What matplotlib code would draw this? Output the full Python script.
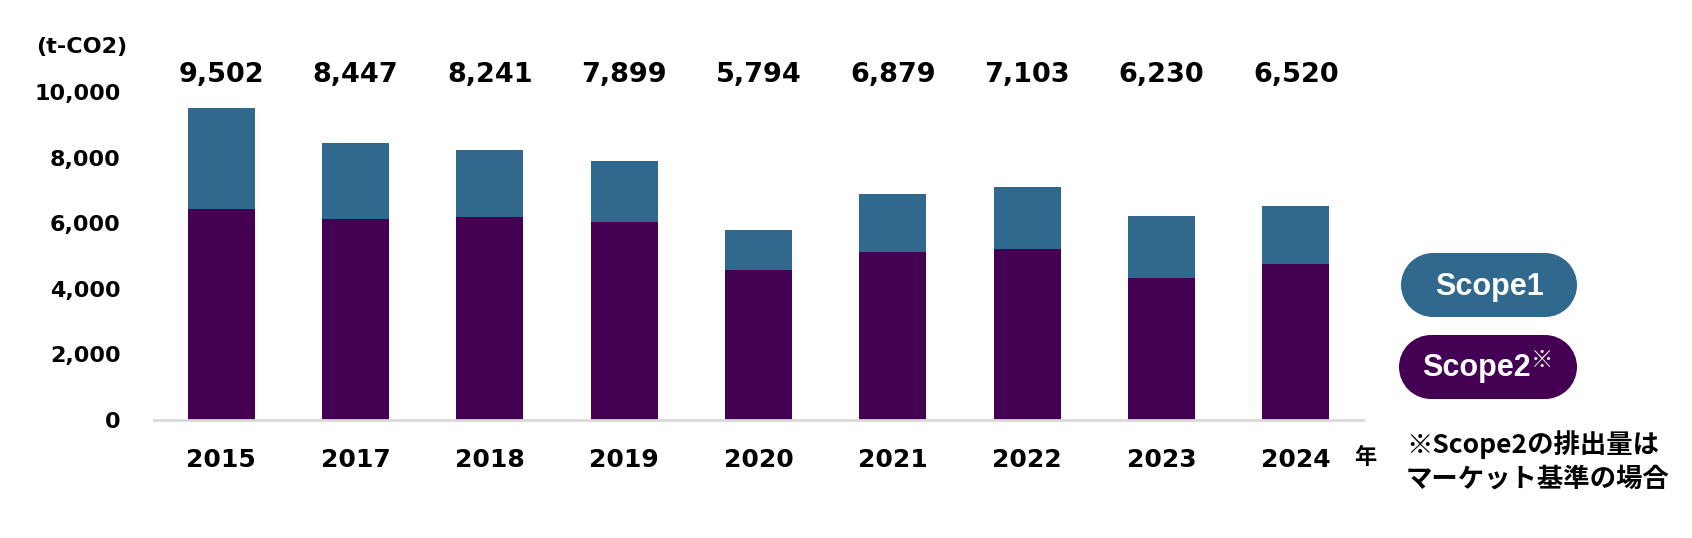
import matplotlib
matplotlib.use("Agg")
import matplotlib.pyplot as plt
from matplotlib.patches import Rectangle, Circle
import numpy as np

plt.rcParams['font.family'] = ['DejaVu Sans', 'Noto Sans CJK JP']

years = ["2015", "2017", "2018", "2019", "2020", "2021", "2022", "2023", "2024"]
totals = [9502, 8447, 8241, 7899, 5794, 6879, 7103, 6230, 6520]
scope2 = [6426, 6121, 6182, 6030, 4568, 5117, 5208, 4325, 4751]
scope1 = [t - s for t, s in zip(totals, scope2)]
yticks = [0, 2000, 4000, 6000, 8000, 10000]

c_scope1 = "#31688e"
c_scope2 = "#440154"
jp = ['Noto Sans CJK JP', 'DejaVu Sans']

W, H = 1692, 538
fig = plt.figure(figsize=(W / 100, H / 100), dpi=100)
ax = fig.add_axes([154 / W, (H - 420) / H, (1363 - 154) / W, 328 / H])

x = np.arange(len(years))
ax.bar(x, scope2, width=0.5, color=c_scope2, zorder=2)
ax.bar(x, scope1, width=0.5, bottom=scope2, color=c_scope1, zorder=2)

# totals above the chart, all at the same height
for i, t in enumerate(totals):
    ax.text(i, 10520, f"{t:,}", ha="center", va="center", fontsize=19.5,
            fontweight="bold", clip_on=False)

ax.set_xlim(-0.5, len(years) - 0.5)
ax.set_ylim(0, 10000)
ax.set_xticks(x)
ax.set_xticklabels(years, fontsize=18, fontweight="bold")
ax.set_yticks(yticks)
ax.set_yticklabels([f"{v:,}" for v in yticks], fontsize=16, fontweight="bold")
ax.tick_params(axis="x", length=0, pad=20)
ax.tick_params(axis="y", length=0, pad=24)
for s in ["top", "right", "left"]:
    ax.spines[s].set_visible(False)
ax.spines["bottom"].set_color("#d9d9d9")
ax.spines["bottom"].set_linewidth(2)

# overlay in pixel coordinates for legend pills and notes
ov = fig.add_axes([0, 0, 1, 1], facecolor="none")
ov.set_xlim(0, W)
ov.set_ylim(H, 0)
ov.axis("off")

ov.text(36, 47, "(t-CO2)", ha="left", va="center", fontsize=16, fontweight="bold")
ov.text(1365, 457, "年", ha="center", va="center", fontsize=16, fontweight="bold",
        family=jp)


def pill(x0, y0, w, h, col):
    r = h / 2
    ov.add_patch(Rectangle((x0 + r, y0), w - 2 * r, h, facecolor=col,
                           edgecolor="none"))
    ov.add_patch(Circle((x0 + r, y0 + r), r, facecolor=col, edgecolor="none"))
    ov.add_patch(Circle((x0 + w - r, y0 + r), r, facecolor=col, edgecolor="none"))


pill(1401, 253, 176, 64, c_scope1)
pill(1399, 335, 178, 64, c_scope2)

ov.text(1489, 287, "Scope1", ha="center", va="center", color="white",
        fontsize=22, fontweight="bold", family="Liberation Sans")
ov.text(1531, 368, "Scope2", ha="right", va="center", color="white",
        fontsize=22, fontweight="bold", family="Liberation Sans")
ov.text(1531, 360, "※", ha="left", va="center", color="white",
        fontsize=16, fontweight="bold", family=jp)

ov.text(1406, 445, "※Scope2の排出量は", ha="left", va="center",
        fontsize=19, fontweight="bold", family=jp)
ov.text(1406, 479, "マーケット基準の場合", ha="left", va="center",
        fontsize=19, fontweight="bold", family=jp)

fig.savefig("out.png", dpi=100)
